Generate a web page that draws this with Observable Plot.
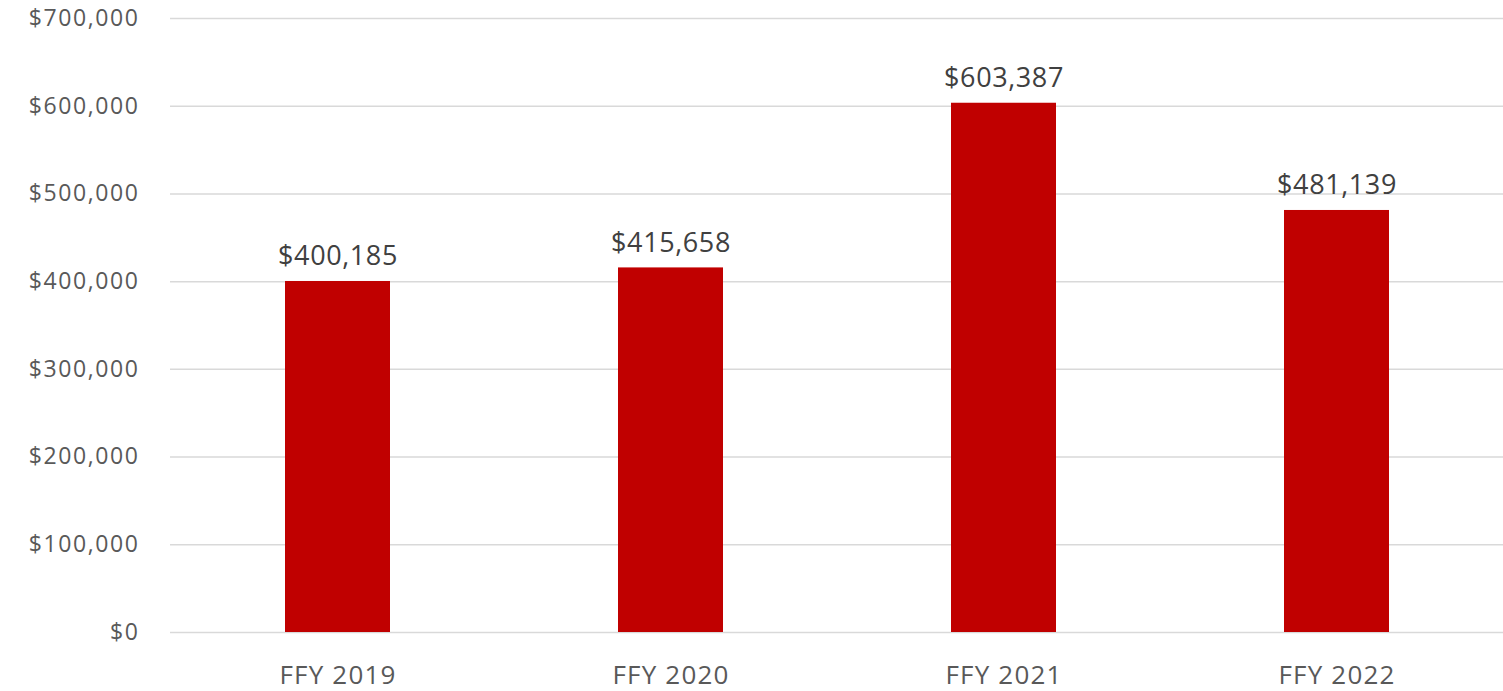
<!DOCTYPE html>
<html>
<head>
<meta charset="utf-8">
<script src="https://cdn.jsdelivr.net/npm/d3@7"></script>
<script src="https://cdn.jsdelivr.net/npm/@observablehq/plot@0.6"></script>
<style>
  html, body { margin: 0; padding: 0; background: #fff; }
  #chart svg { display: block; font-family: "Open Sans", sans-serif; }
  .yax text { letter-spacing: 1.6px; }
  .xax text { letter-spacing: 1.2px; }
  .vlab text { letter-spacing: 0.6px; }
</style>
</head>
<body>
<div id="chart"></div>
<script>
const years = ["FFY 2019", "FFY 2020", "FFY 2021", "FFY 2022"];
const amounts = [400185, 415658, 603387, 481139];
const yTicks = [0, 100000, 200000, 300000, 400000, 500000, 600000, 700000];

const data = years.map((y, i) => ({year: y, amount: amounts[i]}));
const fmt = v => "$" + d3.format(",")(v);

const chart = Plot.plot({
  width: 1503,
  height: 691,
  marginLeft: 170,
  marginRight: 0,
  marginTop: 18,
  marginBottom: 59,
  style: {background: "#fff", overflow: "visible"},
  x: {domain: years, paddingInner: 0.685, paddingOuter: 0.3425, label: null},
  y: {domain: [0, 700000], label: null},
  marks: [
    Plot.ruleY(yTicks, {stroke: "#D9D9D9", strokeWidth: 1.5}),
    Plot.barY(data, {x: "year", y: "amount", fill: "#C00000"}),
    Plot.text(data, {x: "year", y: "amount", text: d => fmt(d.amount), lineAnchor: "bottom", dy: -16, fontSize: 27, fill: "#404040", className: "vlab"}),
    Plot.axisY(yTicks, {tickSize: 0, tickPadding: 31, tickFormat: fmt, fontSize: 23, fill: "#595959", className: "yax"}),
    Plot.axisX({tickSize: 0, tickPadding: 33, fontSize: 26, fill: "#595959", className: "xax"})
  ]
});
document.getElementById("chart").appendChild(chart);
</script>
</body>
</html>
